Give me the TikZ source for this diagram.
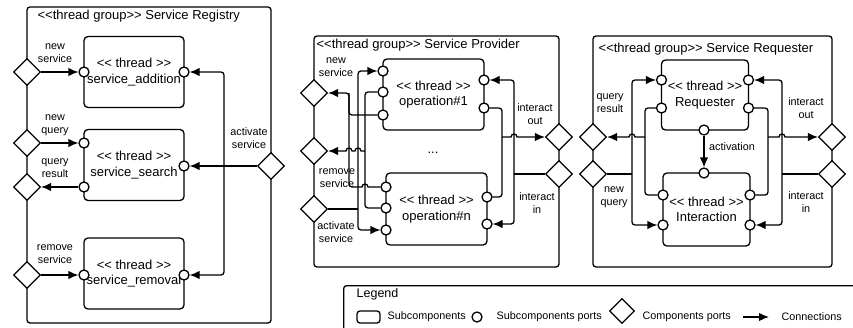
\documentclass[tikz,border=0pt]{standalone}
\usepackage{fontspec}
\setmainfont{Liberation Sans}
\usetikzlibrary{shapes.geometric, arrows.meta}

\begin{document}
\begin{tikzpicture}[x=1pt, y=-1pt, line width=1.3pt]
    \clip (0,0) rectangle (853,327);

    % Styles.
    \tikzstyle{grp}      = [draw, rounded corners=3pt, inner sep=0pt]
    \tikzstyle{grptitle} = [anchor=west, inner sep=0pt, font=\fontsize{13}{15.5}\selectfont]
    \tikzstyle{thread}   = [draw, rounded corners=4pt, inner sep=0pt, align=center,
                            minimum width=100pt, minimum height=71pt,
                            font=\fontsize{13}{15.5}\selectfont]
    \tikzstyle{sport}    = [draw, circle, fill=white, inner sep=0pt, minimum size=10pt]
    \tikzstyle{cport}    = [draw, diamond, fill=white, inner sep=0pt,
                            minimum width=27pt, minimum height=27pt]
    \tikzstyle{lbl}      = [align=center, inner sep=0pt, font=\fontsize{10.8}{13}\selectfont]
    \tikzstyle{conn}     = [-{Latex[length=10pt, width=8.5pt]}]
    \tikzstyle{wire}     = [rounded corners=3pt]

    % Service Registry.
    \node[grp, minimum width=244pt, minimum height=316pt] (SR) at (149,165) {};
    \node[grptitle] (SRt) at (37,16) {<{}<thread group>{}> Service Registry};
    \node[thread] (add)    at (134,72)    {<{}< thread >{}>\\service\_addition};
    \node[thread] (search) at (134,165)   {<{}< thread >{}>\\service\_search};
    \node[thread] (rem)    at (134,273.5) {<{}< thread >{}>\\service\_removal};

    \node[sport] (addIn)   at (84,72)   {};
    \node[sport] (addAct)  at (184,72)  {};
    \node[sport] (srchIn)  at (84,143)  {};
    \node[sport] (srchOut) at (84,187)  {};
    \node[sport] (srchAct) at (184,166) {};
    \node[sport] (remIn)   at (84,275)  {};
    \node[sport] (remAct)  at (184,275) {};

    \node[cport] (SRnew)   at (27,72)   {};
    \node[cport] (SRquery) at (27,143)  {};
    \node[cport] (SRres)   at (27,187)  {};
    \node[cport] (SRrem)   at (27,275)  {};
    \node[cport] (SRact)   at (271,166) {};

    \coordinate (SRj) at (224,166);
    \path[conn]
        (SRnew)   edge (addIn)
        (SRquery) edge (srchIn)
        (srchOut) edge (SRres)
        (SRrem)   edge (remIn)
        (SRact)   edge (srchAct);
    \draw[conn, wire] (SRj) |- (addAct);
    \draw[conn, wire] (SRj) |- (remAct);

    \node[lbl] (lSRnew)   at (55,53)     {new\\service};
    \node[lbl] (lSRquery) at (55,125)    {new\\query};
    \node[lbl] (lSRres)   at (55,168)    {query\\result};
    \node[lbl] (lSRrem)   at (55,254.5)  {remove\\service};
    \node[lbl] (lSRact)   at (249,138.5) {activate\\service};

    % Service Provider.
    \node[grp, minimum width=245pt, minimum height=231pt] (SP) at (436.5,151.5) {};
    \node[grptitle] (SPt) at (316,45) {<{}<thread group>{}> Service Provider};
    \node[thread, minimum width=101pt] (op1) at (433.5,94.5) {<{}< thread >{}>\\operation\#1};
    \node[thread, minimum width=101pt, minimum height=72pt] (opn) at (436.5,209) {<{}< thread >{}>\\operation\#n};
    \node[lbl, font=\fontsize{13}{15.5}\selectfont] (dots) at (433,153) {...};

    \node[sport] (op1a)  at (383,71)  {};
    \node[sport] (op1b)  at (383,92)  {};
    \node[sport] (op1c)  at (383,115) {};
    \node[sport] (op1r1) at (484,80)  {};
    \node[sport] (op1r2) at (484,108) {};
    \node[sport] (opna)  at (386,187) {};
    \node[sport] (opnb)  at (386,208) {};
    \node[sport] (opnc)  at (386,230) {};
    \node[sport] (opnr1) at (487,197) {};
    \node[sport] (opnr2) at (487,224) {};

    \node[cport] (SPnew) at (314,93)  {};
    \node[cport] (SPrem) at (314,151) {};
    \node[cport] (SPact) at (314,209) {};
    \node[cport] (SPout) at (559,137) {};
    \node[cport] (SPin)  at (559,174) {};

    \coordinate (SPjNew) at (349,93);
    \coordinate (SPjRem) at (365,151);
    \coordinate (SPjAct) at (358,209);
    \coordinate (SPjOut) at (502,137);
    \coordinate (SPjIn)  at (514,174);

    \draw[conn, wire] (op1c) -| (SPjNew) -- (SPnew);
    \draw (opna) -- (368,187) arc[start angle=0, end angle=180, radius=3pt]
        [rounded corners=3pt] -| (SPjNew);
    \draw[wire] (op1b) -| (SPjRem);
    \draw[wire] (opnb) -| (SPjRem);
    \draw[conn] (SPjRem) -- (361,151) arc[start angle=0, end angle=180, radius=3pt]
        -- (352,151) arc[start angle=0, end angle=180, radius=3pt] -- (SPrem);
    \draw (SPact) -- (SPjAct);
    \draw[conn, wire] (SPjAct) |- (op1a);
    \draw[conn, wire] (SPjAct) |- (opnc);
    \draw[wire] (op1r2) -| (SPjOut);
    \draw[wire] (opnr1) -| (SPjOut);
    \draw[conn] (SPjOut) -- (511,137) arc[start angle=180, end angle=0, radius=3pt] -- (SPout);
    \draw (SPin) -- (SPjIn);
    \draw[conn, wire] (SPjIn) |- (op1r1);
    \draw[conn, wire] (SPjIn) |- (opnr2);

    \node[lbl] (lSPnew) at (336,67)    {new\\service};
    \node[lbl] (lSPrem) at (337,178)   {remove\\service};
    \node[lbl] (lSPact) at (336,232.5) {activate\\service};
    \node[lbl] (lSPout) at (535,114.5) {interact\\out};
    \node[lbl] (lSPin)  at (537,203.5) {interact\\in};

    % Service Requester.
    \node[grp, minimum width=239pt, minimum height=231pt] (SQ) at (712.5,151.5) {};
    \node[grptitle] (SQt) at (598,49) {<{}<thread group>{}> Service Requester};
    \node[thread, minimum width=87pt, minimum height=70pt] (req) at (705,95) {<{}< thread >{}>\\Requester};
    \node[thread, minimum width=87pt, minimum height=73pt] (inter) at (706.5,209.5) {<{}< thread >{}>\\Interaction};

    \node[sport] (reqL1) at (661.5,80)  {};
    \node[sport] (reqL2) at (661.5,108) {};
    \node[sport] (reqR1) at (748.5,80)  {};
    \node[sport] (reqR2) at (748.5,108) {};
    \node[sport] (reqB)  at (704,130)   {};
    \node[sport] (intT)  at (704,173)   {};
    \node[sport] (intL1) at (663,195)   {};
    \node[sport] (intL2) at (663,225)   {};
    \node[sport] (intR1) at (750,195)   {};
    \node[sport] (intR2) at (750,225)   {};

    \node[cport] (SQres)   at (593,137) {};
    \node[cport] (SQquery) at (593,174) {};
    \node[cport] (SQout)   at (832,137) {};
    \node[cport] (SQin)    at (832,174) {};

    \coordinate (SQjRes)   at (645,137);
    \coordinate (SQjQuery) at (632,174);
    \coordinate (SQjOut)   at (768,137);
    \coordinate (SQjIn)    at (782,174);

    \draw[wire] (reqL2) -| (SQjRes);
    \draw[wire] (intL1) -| (SQjRes);
    \draw[conn] (SQjRes) -- (635,137) arc[start angle=0, end angle=180, radius=3pt] -- (SQres);
    \draw (SQquery) -- (SQjQuery);
    \draw[conn, wire] (SQjQuery) |- (reqL1);
    \draw[conn, wire] (SQjQuery) |- (intL2);
    \draw[conn] (reqB) -- (intT);
    \draw[wire] (reqR2) -| (SQjOut);
    \draw[wire] (intR1) -| (SQjOut);
    \draw[conn] (SQjOut) -- (779,137) arc[start angle=180, end angle=0, radius=3pt] -- (SQout);
    \draw (SQin) -- (SQjIn);
    \draw[conn, wire] (SQjIn) |- (reqR1);
    \draw[conn, wire] (SQjIn) |- (intR2);

    \node[lbl] (lSQres)   at (610,103)   {query\\result};
    \node[lbl] (lSQquery) at (614,197.5) {new\\query};
    \node[lbl] (lSQact)   at (732,147)   {activation};
    \node[lbl] (lSQout)   at (806,108.5) {interact\\out};
    \node[lbl] (lSQin)    at (806,202.5) {interact\\in};

    % Legend.
    \node[grp, anchor=north west, minimum width=540pt, minimum height=60pt] (legend) at (343,285) {};
    \node[grptitle, font=\fontsize{12.5}{15}\selectfont] (legTitle) at (356,294) {Legend};
    \node[draw, rounded corners=3pt, minimum width=23pt, minimum height=12pt, inner sep=0pt] (legSub) at (368.5,317) {};
    \node[lbl, anchor=west] (legSubT) at (387,317) {Subcomponents};
    \node[sport] (legSport) at (477,317) {};
    \node[lbl, anchor=west] (legSportT) at (496,317) {Subcomponents ports};
    \node[cport, minimum width=25pt, minimum height=25pt] (legCport) at (622,311) {};
    \node[lbl, anchor=west] (legCportT) at (642,317) {Components ports};
    \coordinate (legA) at (743,317);
    \coordinate (legB) at (769,317);
    \draw[conn] (legA) -- (legB);
    \node[lbl, anchor=west] (legConnT) at (781,317) {Connections};
\end{tikzpicture}
\end{document}
